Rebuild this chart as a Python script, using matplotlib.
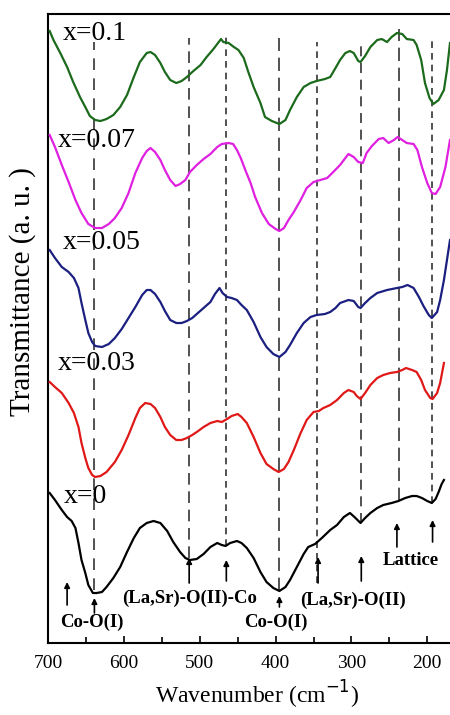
import matplotlib
matplotlib.use("Agg")
import matplotlib.pyplot as plt

plt.rcParams['font.family'] = ['Liberation Serif', 'DejaVu Serif']

wn_01 = [698, 693, 684, 675, 667, 658, 651, 645, 638, 631, 623, 614, 605, 596, 587, 579, 570, 565, 559, 552,
         546, 539, 531, 524, 517, 510, 499, 491, 482, 475, 472, 469, 462, 455, 449, 442, 436, 429, 420, 414,
         405, 395, 387, 381, 372, 363, 354, 346, 335, 328, 321, 315, 308, 302, 297, 291, 288, 282, 275, 266,
         260, 253, 247, 240, 233, 227, 218, 214, 208, 203, 197, 192, 185, 178, 174, 170]
t_01 = [61.2, 60.3, 59.0, 57.6, 56.1, 54.6, 53.6, 52.7, 52.3, 52.2, 52.4, 52.8, 53.6, 54.8, 56.6, 58.1, 59.0,
        59.1, 58.8, 58.0, 57.1, 56.3, 56.0, 56.2, 56.6, 57.1, 57.8, 58.6, 59.4, 60.1, 60.4, 60.1, 60.0, 59.6,
        59.3, 58.5, 57.1, 55.6, 54.0, 52.6, 52.2, 51.9, 52.3, 53.3, 54.6, 55.6, 56.0, 56.2, 56.4, 56.6, 57.5,
        58.3, 59.0, 59.2, 59.0, 58.2, 58.1, 58.7, 59.6, 60.3, 60.4, 60.1, 60.6, 61.0, 60.9, 60.4, 60.3, 59.8,
        58.3, 56.0, 54.5, 53.9, 54.3, 55.3, 57.3, 60.0]

wn_007 = [698, 691, 682, 673, 664, 656, 647, 638, 629, 620, 612, 603, 594, 585, 576, 570, 565, 559, 552, 546,
          539, 532, 526, 519, 513, 504, 495, 486, 477, 471, 462, 456, 451, 446, 440, 433, 427, 418, 409, 400,
          395, 389, 383, 376, 367, 359, 350, 341, 332, 324, 315, 304, 297, 291, 285, 280, 273, 264, 258, 251,
          244, 239, 233, 227, 218, 213, 207, 200, 194, 189, 183, 176, 170]
t_007 = [50.8, 49.6, 47.8, 46.1, 44.3, 43.0, 41.9, 41.5, 41.5, 41.9, 42.5, 43.5, 45.0, 47.0, 48.5, 49.2, 49.5,
         49.1, 48.3, 47.3, 46.3, 45.7, 45.9, 46.3, 47.1, 47.8, 48.4, 48.9, 49.6, 49.9, 50.0, 49.9, 49.3, 48.5,
         47.3, 46.0, 44.6, 43.0, 41.9, 41.4, 41.2, 41.5, 42.3, 43.1, 44.3, 45.5, 46.1, 46.3, 46.5, 47.1, 47.8,
         48.9, 48.6, 48.1, 48.0, 49.0, 49.7, 50.4, 50.5, 50.0, 50.3, 50.6, 50.3, 50.0, 49.9, 49.3, 47.6, 46.0,
         45.0, 44.9, 45.6, 47.6, 50.3]

wn_005 = [698, 691, 682, 673, 666, 660, 656, 651, 647, 642, 638, 629, 620, 612, 603, 594, 585, 576, 570, 565,
          559, 552, 546, 539, 531, 524, 517, 510, 504, 495, 486, 480, 474, 470, 464, 458, 451, 445, 438, 429,
          420, 412, 403, 395, 387, 381, 372, 363, 354, 346, 335, 328, 321, 315, 304, 297, 291, 288, 282, 275,
          266, 253, 240, 233, 226, 218, 211, 205, 198, 194, 187, 183, 178, 174, 170]
t_005 = [39.3, 38.5, 37.6, 37.1, 36.5, 35.5, 34.0, 32.3, 31.0, 30.1, 29.7, 29.6, 29.9, 30.5, 31.4, 32.5, 33.6,
         34.8, 35.3, 35.3, 34.9, 34.1, 33.2, 32.3, 32.0, 32.0, 32.2, 32.5, 32.9, 33.5, 34.1, 34.9, 35.5, 35.0,
         34.6, 34.5, 34.3, 33.8, 33.3, 32.1, 30.6, 29.6, 28.9, 28.6, 29.1, 29.8, 31.0, 32.0, 32.6, 32.8, 32.9,
         33.1, 33.5, 34.0, 34.3, 34.2, 33.6, 33.5, 34.0, 34.5, 35.0, 35.3, 35.5, 35.6, 35.8, 35.5, 34.6, 33.7,
         32.8, 32.5, 33.1, 34.3, 36.3, 38.3, 40.3]

wn_003 = [698, 691, 682, 673, 666, 660, 656, 651, 647, 642, 638, 631, 623, 612, 603, 594, 585, 579, 572, 565,
          559, 552, 546, 539, 531, 524, 517, 510, 504, 495, 486, 477, 471, 464, 458, 450, 445, 438, 429, 420,
          412, 403, 396, 389, 383, 376, 367, 359, 350, 343, 337, 328, 319, 310, 304, 297, 293, 288, 282, 275,
          266, 258, 249, 240, 233, 228, 220, 214, 208, 203, 196, 193, 187, 183, 178]
t_003 = [26.1, 25.6, 25.0, 24.0, 23.0, 21.6, 20.0, 18.5, 17.5, 16.8, 16.6, 16.7, 17.1, 18.1, 19.3, 20.8, 22.5,
         23.5, 24.0, 23.9, 23.5, 22.6, 21.6, 20.8, 20.3, 20.3, 20.5, 20.8, 21.1, 21.6, 22.0, 22.2, 22.1, 22.4,
         22.7, 22.9, 22.6, 22.0, 20.6, 19.0, 17.9, 17.4, 17.1, 17.4, 18.1, 19.3, 21.0, 22.3, 23.1, 23.2, 23.5,
         23.8, 24.3, 25.0, 25.3, 25.1, 24.7, 24.4, 25.0, 25.8, 26.5, 26.8, 27.0, 27.1, 27.3, 27.5, 27.3, 27.1,
         26.3, 25.3, 24.5, 24.4, 25.0, 26.0, 28.0]

wn_0 = [698, 691, 682, 675, 669, 664, 660, 656, 651, 647, 641, 636, 629, 623, 614, 605, 596, 587, 579, 570,
        561, 552, 543, 535, 526, 519, 513, 504, 495, 486, 477, 471, 466, 460, 451, 445, 438, 429, 420, 412,
        403, 395, 387, 381, 372, 363, 357, 348, 339, 328, 319, 310, 302, 296, 288, 282, 275, 266, 258, 247,
        238, 229, 220, 214, 207, 200, 194, 189, 185, 181, 178]
t_0 = [15.0, 14.3, 13.3, 12.6, 12.2, 11.5, 10.0, 8.3, 7.0, 5.8, 5.0, 5.0, 5.1, 5.6, 6.5, 7.6, 9.1, 10.5, 11.5,
       12.0, 12.2, 12.0, 11.2, 10.1, 9.1, 8.5, 8.3, 8.4, 8.9, 9.6, 10.0, 9.8, 9.7, 10.0, 10.2, 10.0, 9.5, 8.5,
       7.1, 6.1, 5.5, 5.2, 5.6, 6.3, 7.6, 8.9, 9.6, 9.9, 10.5, 11.3, 11.8, 12.6, 13.0, 12.6, 12.0, 12.5, 13.0,
       13.5, 13.8, 14.0, 14.2, 14.5, 14.7, 14.7, 14.5, 14.2, 14.0, 14.4, 15.1, 15.9, 16.3]

series = [
    ("x=0.1", wn_01, t_01, "#1c6a1c", (681, 61.0)),
    ("x=0.07", wn_007, t_007, "#e020e0", (687, 50.3)),
    ("x=0.05", wn_005, t_005, "#1a1f80", (681, 40.1)),
    ("x=0.03", wn_003, t_003, "#e01818", (687, 28.0)),
    ("x=0", wn_0, t_0, "black", (680, 14.7)),
]

# band positions: dashed guide lines (wavenumber, top, bottom)
band_wn = [639, 514, 465, 395, 346, 288, 237, 194]
band_top = [60.1, 60.5, 60.8, 60.5, 60.1, 60.1, 61.4, 60.5]
band_bot = [5.3, 8.5, 9.7, 5.2, 6.0, 12.0, 14.2, 14.0]
band_dash = [(7, 5), (7, 4), (4, 3), (8, 4), (4, 3), (6, 4), (8, 4), (4, 3)]

# arrows (wavenumber, tail, tip)
arrow_wn = [675, 639, 514, 465, 395, 344, 287, 240, 193]
arrow_tail = [3.8, 3.0, 6.0, 6.2, 3.6, 6.0, 6.2, 9.6, 10.1]
arrow_tip = [6.1, 4.5, 8.5, 8.3, 4.7, 8.6, 8.7, 12.0, 12.3]

labels = ["Co-O(I)", "(La,Sr)-O(II)-Co", "Co-O(I)", "(La,Sr)-O(II)", "Lattice"]
label_wn = [642, 513, 399, 298, 222]
label_t = [2.1, 4.5, 2.1, 4.3, 8.3]

fig = plt.figure(figsize=(4.5, 7.15), dpi=100)
ax = fig.add_axes([0.107, 0.1007, 0.893, 0.8797])

for w, top, bot, d in zip(band_wn, band_top, band_bot, band_dash):
    ax.plot([w, w], [bot, top], color="#333333", lw=1.2, dashes=d, zorder=1)

for name, wn, t, c, pos in series:
    ax.plot(wn, t, color=c, lw=1.6, zorder=3)
    ax.text(pos[0], pos[1], name, fontsize=20, va="center", ha="left", zorder=4)

for w, a, b in zip(arrow_wn, arrow_tail, arrow_tip):
    ax.annotate("", xy=(w, b), xytext=(w, a),
                arrowprops=dict(arrowstyle="-|>", color="black", lw=1.2,
                                mutation_scale=8, shrinkA=0, shrinkB=0))

for s, w, t in zip(labels, label_wn, label_t):
    ax.text(w, t, s, fontsize=13.5, fontweight="bold", ha="center", va="center")

ax.set_xlim(700, 170)
ax.set_ylim(0, 62.9)
ax.set_xticks([700, 600, 500, 400, 300, 200])
ax.set_xticks([650, 550, 450, 350, 250], minor=True)
ax.set_yticks([])
ax.tick_params(axis="x", direction="in", labelsize=14, length=5, width=1.2, pad=9)
ax.tick_params(axis="x", which="minor", direction="in", length=4, width=1.2)
ax.spines["right"].set_visible(False)
for sp in ["left", "top", "bottom"]:
    ax.spines[sp].set_linewidth(1.5)

ax.set_xlabel("Wavenumber (cm$^{-1}$)", fontsize=17)
ax.xaxis.set_label_coords(0.52, -0.057)
ax.set_ylabel("Transmittance (a. u. )", fontsize=21)
ax.yaxis.set_label_coords(-0.03, 0.558)

fig.savefig("out.png", dpi=100)
